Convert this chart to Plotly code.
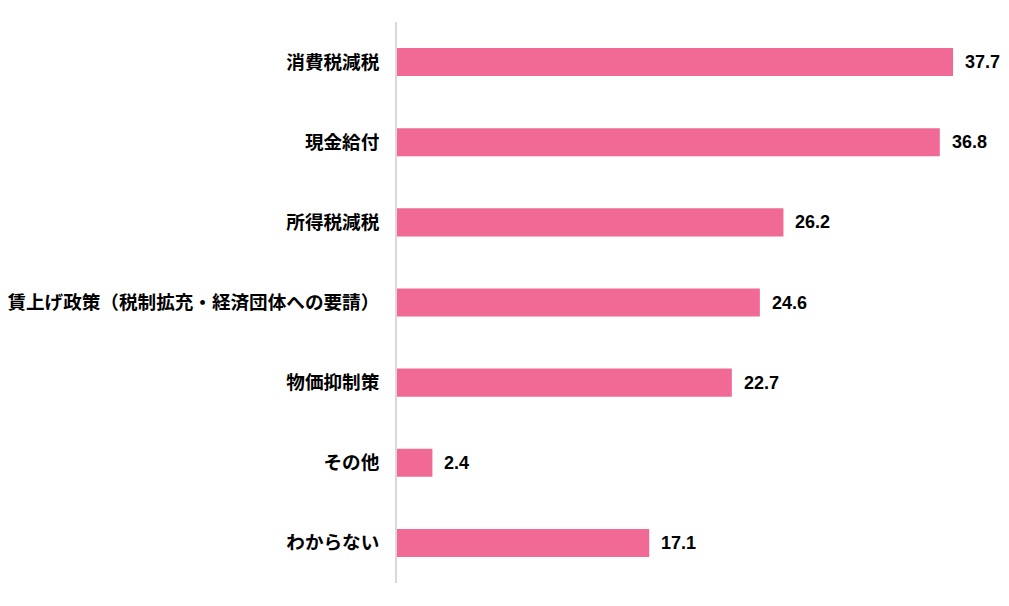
import plotly.graph_objects as go

categories = ["消費税減税", "現金給付", "所得税減税",
              "賃上げ政策（税制拡充・経済団体への要請）", "物価抑制策", "その他", "わからない"]
values = [37.7, 36.8, 26.2, 24.6, 22.7, 2.4, 17.1]

bar_color = "#f06a95"

fig = go.Figure()
fig.add_trace(go.Bar(
    x=values, y=categories, orientation="h",
    marker=dict(color=bar_color, line=dict(width=0)),
    width=0.35, hoverinfo="x+y",
))

for c, v in zip(categories, values):
    fig.add_annotation(
        x=v, y=c, text=f"{v:.1f}", showarrow=False,
        xanchor="left", yanchor="middle", xshift=10,
        font=dict(family="Liberation Sans, Arial, sans-serif", size=18, color="#000000", weight="bold"),
    )

fig.update_layout(
    width=993, height=590,
    margin=dict(l=389, r=14, t=14, b=15),
    paper_bgcolor="white", plot_bgcolor="white",
    showlegend=False,
    xaxis=dict(range=[0, 40], showgrid=False, zeroline=False, showticklabels=False,
               showline=False, ticks="", automargin=False),
    yaxis=dict(categoryorder="array", categoryarray=categories, autorange="reversed",
               showgrid=False, zeroline=False, showline=True, linecolor="#d9d9d9",
               linewidth=2, ticks="", ticklabelstandoff=12, automargin=False,
               tickfont=dict(family="Noto Sans CJK JP", size=18.6, color="#000000", weight="bold")),
)

fig.write_html("out.html")
